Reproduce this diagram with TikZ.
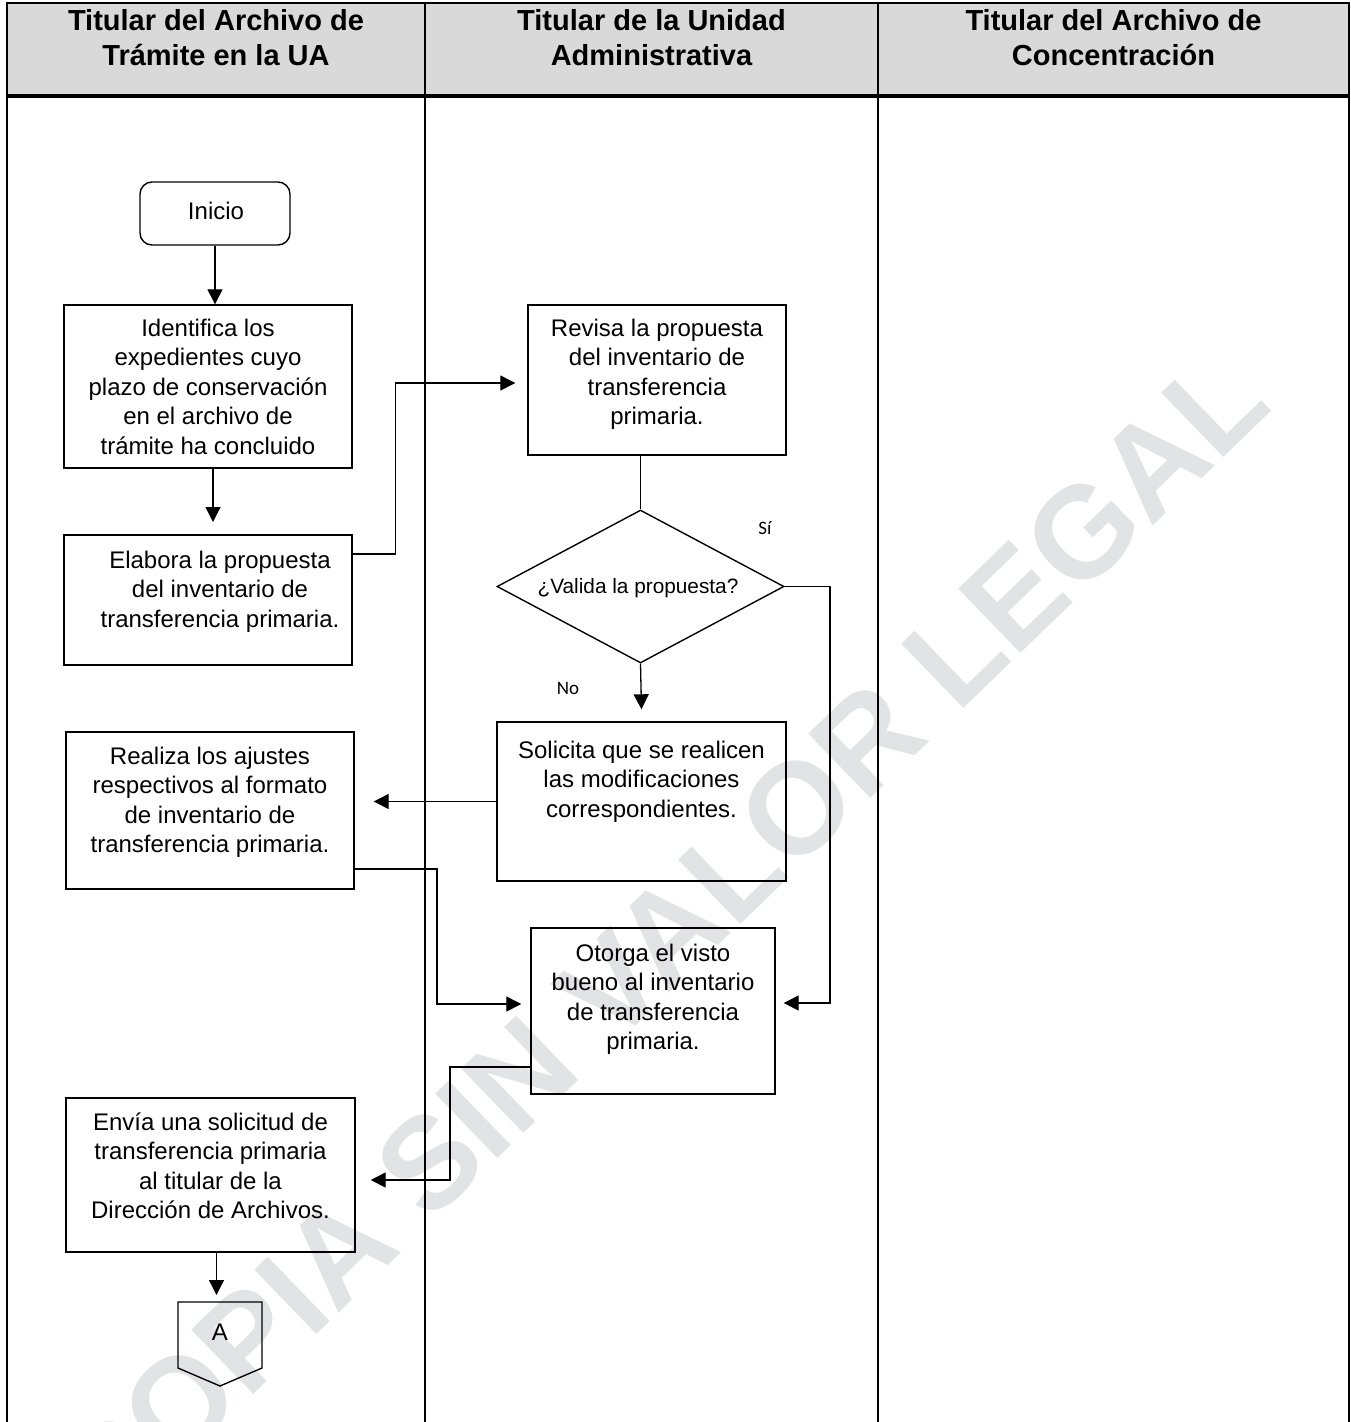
\documentclass[tikz,border=0pt]{standalone}
\usepackage{fontspec}
\setmainfont{Liberation Sans}
\newfontfamily\calib{Carlito}
\usetikzlibrary{arrows.meta,shapes.geometric}
\definecolor{hdrgray}{RGB}{217,217,217}
\definecolor{wmgray}{RGB}{226,227,229}
\begin{document}
\begin{tikzpicture}[x=1pt,y=-1pt,
  box/.style={draw, line width=1.4pt, inner sep=0pt},
  txt/.style={inner sep=0pt, anchor=base, font=\fontsize{24}{29.5}\selectfont},
  hdrtxt/.style={inner sep=0pt, anchor=base, font=\fontsize{29}{35}\selectfont\bfseries},
  conn/.style={line width=1.3pt},
  arr/.style={line width=1.3pt, -{Triangle[length=15pt,width=15pt]}},
  lbl/.style={inner sep=0pt, anchor=base, font=\calib\fontsize{19}{22}\selectfont},
  wm/.style={inner sep=0pt, text=wmgray, font=\fontsize{130}{130}\selectfont\bfseries},
  col/.style={line width=2.6pt}
]
\useasboundingbox (0,0) rectangle (1351,1422);
% watermark
\node[wm, rotate=44] (wm) at (660,940) {COPIA SIN VALOR LEGAL};
% table
\fill[hdrgray] (7,3) rectangle (1349,96);
\draw[col] (7,1422) -- (7,3) -- (1349,3) -- (1349,1422);
\draw[col] (425,3) -- (425,1422);
\draw[col] (878,3) -- (878,1422);
\draw[line width=3.4pt] (7,96) -- (1349,96);
\node[hdrtxt] (h1) at (216,30) {\parbox[t]{400pt}{\centering Titular del Archivo de\\Trámite en la UA}};
\node[hdrtxt] (h2) at (651.5,30) {\parbox[t]{440pt}{\centering Titular de la Unidad\\Administrativa}};
\node[hdrtxt] (h3) at (1113.5,30) {\parbox[t]{440pt}{\centering Titular del Archivo de\\Concentración}};
% nodes
\node[box, rounded corners=12pt, minimum width=150pt, minimum height=63pt] (inicio) at (215,213.5) {};
\node[txt] (inicioT) at (216,219) {Inicio};
\node[box, minimum width=288pt, minimum height=163pt] (ident) at (208,386.5) {};
\node[txt] (identT) at (208,336) {\parbox[t]{300pt}{\centering Identifica los\\expedientes cuyo\\plazo de conservación\\en el archivo de\\trámite ha concluido}};
\node[box, minimum width=288pt, minimum height=130pt] (elab) at (208,600) {};
\node[txt] (elabT) at (220,568) {\parbox[t]{300pt}{\centering Elabora la propuesta\\del inventario de\\transferencia primaria.}};
\node[box, minimum width=258pt, minimum height=150pt] (revisa) at (657,380) {};
\node[txt] (revisaT) at (657,336) {\parbox[t]{300pt}{\centering Revisa la propuesta\\del inventario de\\transferencia\\primaria.}};
\node[box, diamond, minimum width=287pt, minimum height=153pt] (dia) at (640.5,586.5) {};
\node[inner sep=0pt, anchor=base, font=\fontsize{20.8}{25}\selectfont] (diaT) at (638,593) {¿Valida la propuesta?};
\node[lbl] (si) at (765,534) {Sí};
\node[lbl] (no) at (568,694) {No};
\node[box, minimum width=289pt, minimum height=159pt] (soli) at (641.5,801.5) {};
\node[txt] (soliT) at (641.5,758) {\parbox[t]{300pt}{\centering Solicita que se realicen\\las modificaciones\\correspondientes.}};
\node[box, minimum width=288pt, minimum height=157pt] (real) at (210,810.5) {};
\node[txt] (realT) at (210,764) {\parbox[t]{300pt}{\centering Realiza los ajustes\\respectivos al formato\\de inventario de\\transferencia primaria.}};
\node[box, minimum width=244pt, minimum height=166pt] (oto) at (653,1011) {};
\node[txt] (otoT) at (653,961) {\parbox[t]{300pt}{\centering Otorga el visto\\bueno al inventario\\de transferencia\\primaria.}};
\node[box, minimum width=289pt, minimum height=154pt] (env) at (210.5,1175) {};
\node[txt] (envT) at (210.5,1130) {\parbox[t]{300pt}{\centering Envía una solicitud de\\transferencia primaria\\al titular de la\\Dirección de Archivos.}};
% off-page connector
\draw[line width=1.4pt] (178,1302) -- (262,1302) -- (262,1368) -- (220,1386) -- (178,1368) -- cycle;
\node[txt] (offAT) at (220,1340) {A};
% connectors
\coordinate (c1) at (213,522);
\coordinate (c2) at (216.5,1295);
\draw[arr] (inicio.south) -- (inicio.south |- ident.north);
\draw[arr] (ident.south -| c1) -- (c1);
\draw[arr] ([yshift=46pt]elab.east) -- ++(43,0) |- ([xshift=-12pt,yshift=-3pt]revisa.west);
\draw[conn] (dia.north |- revisa.south) -- (dia.north);
\draw[arr] (dia.east) -| (830,1003) -- ([xshift=8pt,yshift=8pt]oto.east);
\draw[arr] (dia.south) -- ([yshift=12pt]soli.north);
\draw[arr] (soli.west) -- ([xshift=19pt]real.east |- soli.west);
\draw[arr] ([yshift=-58.5pt]real.east) -| (437,1004) -- ([xshift=-9pt,yshift=7pt]oto.west);
\draw[arr] ([yshift=-56pt]oto.west) -| (450,1180) -- ([xshift=15pt,yshift=-5pt]env.east);
\draw[arr] (env.south -| c2) -- (c2);
\end{tikzpicture}
\end{document}
